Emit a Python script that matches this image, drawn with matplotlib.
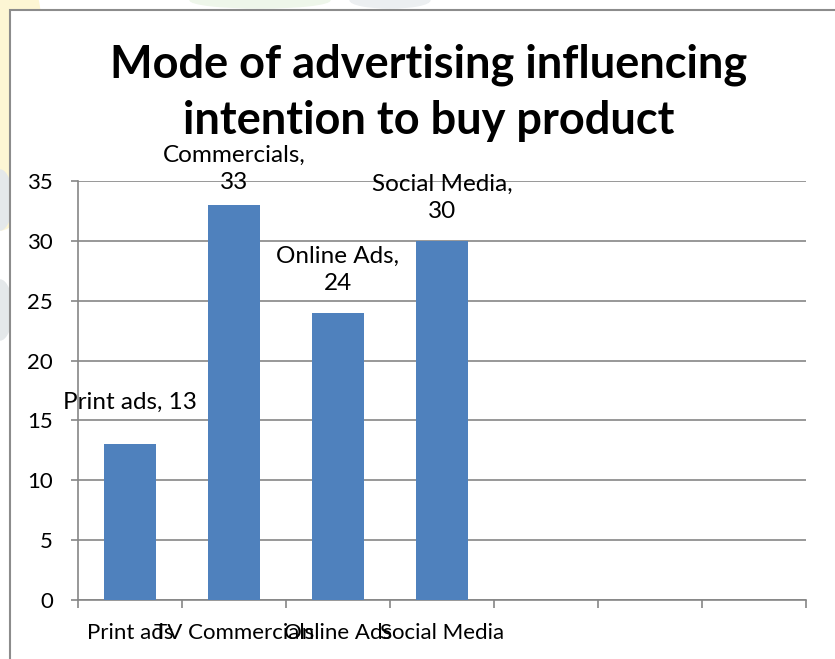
import matplotlib.pyplot as plt
from matplotlib.patches import Rectangle, Ellipse

# Survey results
categories = ['Print ads', 'TV Commercials', 'Online Ads', 'Social Media']
responses = [13, 33, 24, 30]
point_labels = ['Print ads, 13', 'Commercials,\n33', 'Online Ads,\n24', 'Social Media,\n30']
n_slots = 7

plt.rcParams['font.family'] = ['Lato', 'DejaVu Sans']

W, H = 835, 659
fig = plt.figure(figsize=(W / 100, H / 100), dpi=100)

# faint page background behind the chart frame
bg = fig.add_axes([0, 0, 1, 1], zorder=-5)
bg.set_xlim(0, W)
bg.set_ylim(H, 0)
bg.axis('off')
bg.add_patch(Ellipse((0, 80), 90, 300, color='#fdf6d4'))
bg.add_patch(Ellipse((0, 200), 24, 60, color='#e4e8ea'))
bg.add_patch(Ellipse((0, 310), 24, 60, color='#e4e8ea'))
bg.add_patch(Ellipse((260, 0), 140, 16, color='#eef6ea'))
bg.add_patch(Ellipse((390, 0), 80, 16, color='#eceff1'))
bg.add_patch(Rectangle((10, 10), W, H, facecolor='white', edgecolor='#8c8c8c', lw=1.5))

# plot area in pixel coordinates
left, right, top, bottom = 78, 806, 181, 600
ax = fig.add_axes([left / W, 1 - bottom / H, (right - left) / W, (bottom - top) / H])
ax.set_facecolor('none')

xs = list(range(len(categories)))
ax.bar(xs, responses, width=0.5, color='#4f81bd', zorder=3)

ax.set_xlim(-0.5, n_slots - 0.5)
ax.set_ylim(0, 35)
ax.set_yticks(range(0, 36, 5))
ax.yaxis.grid(True, color='#868686', lw=1.2, zorder=0)
ax.tick_params(axis='y', length=5, width=1.2, color='#868686', labelsize=16, pad=13)

# category ticks sit on the slot boundaries, labels under the slot centres
ax.set_xticks([i - 0.5 for i in range(n_slots + 1)])
ax.set_xticklabels([])
ax.tick_params(axis='x', length=6, width=1.2, color='#868686')
for x, name in zip(xs, categories):
    ax.annotate(name, (x, 0), xytext=(0, -33), textcoords='offset pixels',
                ha='center', va='center', fontsize=16, annotation_clip=False)

for s in ['top', 'right']:
    ax.spines[s].set_visible(False)
for s in ['left', 'bottom']:
    ax.spines[s].set_color('#868686')
    ax.spines[s].set_linewidth(1.2)

# data labels above each bar (pixel gap between bar top and label centre)
label_gap = [42, 36, 43, 43]
for x, val, lab, gap in zip(xs, responses, point_labels, label_gap):
    ax.annotate(lab, (x, val), xytext=(0, gap), textcoords='offset pixels',
                ha='center', va='center', fontsize=17.5, linespacing=1.35,
                zorder=4, annotation_clip=False)

fig.text(0.513, 1 - 93 / H, 'Mode of advertising influencing\nintention to buy product',
         ha='center', va='center', fontsize=32.5, fontweight='bold', linespacing=1.4)

fig.savefig('out.png', dpi=100)
